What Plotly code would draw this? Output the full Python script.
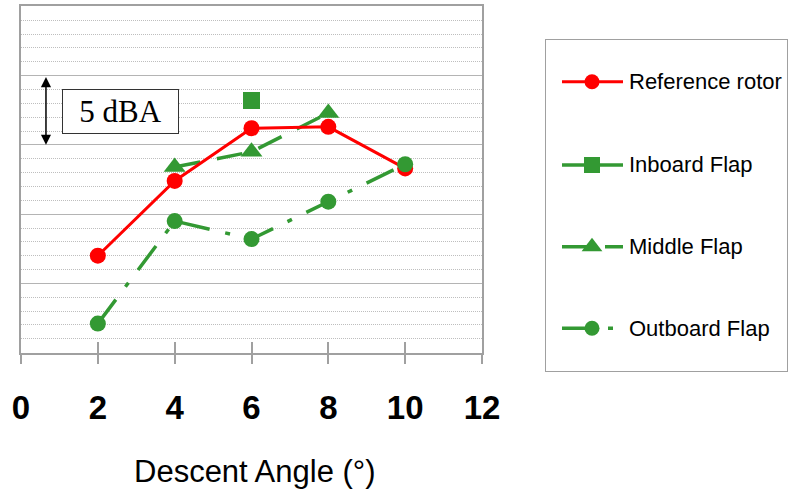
import plotly.graph_objects as go

# Descent angle (deg) and relative noise level (dBA, scale bar = 5 dBA)
angles = [2, 4, 6, 8, 10]
reference_rotor = [7.0, 12.4, 16.2, 16.3, 13.3]
inboard_angles = [6]
inboard_flap = [18.2]
middle_angles = [4, 6, 8]
middle_flap = [13.4, 14.5, 17.3]
outboard_angles = [2, 4, 6, 8, 10]
outboard_flap = [2.1, 9.5, 8.2, 10.9, 13.6]
x_ticks = [0, 2, 4, 6, 8, 10, 12]
series_names = ["Reference rotor", "Inboard Flap", "Middle Flap", "Outboard Flap"]

W, H = 790, 491
RED = "#FF0000"
GREEN = "#339933"
GRID = "#B4B4B4"
MINOR = "#BEBEBE"
AXIS = "#A0A0A0"

styles = {
    "Reference rotor": dict(color=RED, width=3, dash="solid", symbol="circle", size=16),
    "Inboard Flap": dict(color=GREEN, width=3.5, dash="solid", symbol="square", size=17),
    "Middle Flap": dict(color=GREEN, width=3.5, dash="26px,17px", symbol="triangle-up", size=19),
    "Outboard Flap": dict(color=GREEN, width=3.5, dash="30px,16px,5px,16px", symbol="circle", size=16),
}


def series(name, x, y, **kw):
    s = styles[name]
    return go.Scatter(
        x=x, y=y, name=name, mode="lines+markers",
        line=dict(color=s["color"], width=s["width"], dash=s["dash"]),
        marker=dict(color=s["color"], symbol=s["symbol"], size=s["size"], line=dict(width=0)),
        showlegend=False, hoverinfo="x+y+name", **kw,
    )


fig = go.Figure()
fig.add_trace(series("Middle Flap", middle_angles, middle_flap))
fig.add_trace(series("Reference rotor", angles, reference_rotor))
fig.add_trace(series("Inboard Flap", inboard_angles, inboard_flap))
fig.add_trace(series("Outboard Flap", outboard_angles, outboard_flap))
# carrier trace for the inward half of the crossing x ticks
fig.add_trace(go.Scatter(x=x_ticks, y=[None] * len(x_ticks), xaxis="x3", yaxis="y",
                         mode="markers", showlegend=False, hoverinfo="skip"))

# key panel drawn on its own pixel-scaled axes
KEY_X0, KEY_X1, KEY_Y0, KEY_Y1 = 546, 787, 40, 371
key_rows = [81.7, 165, 246.7, 328.3]
key_line = (562, 623)
key_marker_x = 592
key_text_x = 627
for name, ry in zip(series_names, key_rows):
    s = styles[name]
    fig.add_trace(go.Scatter(
        x=list(key_line), y=[ry, ry], mode="lines", xaxis="x2", yaxis="y2",
        line=dict(color=s["color"], width=s["width"], dash=s["dash"]),
        showlegend=False, hoverinfo="skip"))
    fig.add_trace(go.Scatter(
        x=[key_marker_x], y=[ry], mode="markers", xaxis="x2", yaxis="y2",
        marker=dict(color=s["color"], symbol=s["symbol"], size=s["size"] - 1, line=dict(width=0)),
        showlegend=False, hoverinfo="skip"))
    fig.add_annotation(
        x=key_text_x, y=ry, xref="x2", yref="y2", text=name, showarrow=False,
        xanchor="left", yanchor="middle",
        font=dict(family="Liberation Sans, Arial, sans-serif", size=22, color="#000000"))

# 5 dBA scale bar
fig.add_annotation(
    x=0.65, y=15, ax=0.65, ay=20, xref="x", yref="y", axref="x", ayref="y",
    text="", showarrow=True, arrowside="end+start", arrowhead=2, startarrowhead=2,
    arrowsize=1.35, startarrowsize=1.35, arrowwidth=1.5, arrowcolor="#000000")
fig.add_annotation(
    x=2.6, y=17.4, xref="x", yref="y", text="5 dBA", showarrow=False,
    width=115, height=43, borderpad=0, borderwidth=1, bordercolor="#333333",
    bgcolor="#FFFFFF", xanchor="center", yanchor="middle",
    font=dict(family="Liberation Serif, Times New Roman, serif", size=31, color="#000000"))

# axis title
fig.add_annotation(
    x=255 / W, y=1 - 471 / H, xref="paper", yref="paper", text="Descent Angle (°)",
    showarrow=False, xanchor="center", yanchor="middle",
    font=dict(family="Liberation Sans, Arial, sans-serif", size=31, color="#000000"))

PX0, PX1, PY0, PY1 = 21, 482, 6.3, 352.7
x_dom = [PX0 / W, PX1 / W]
y_dom = [1 - PY1 / H, 1 - PY0 / H]

fig.update_layout(
    width=W, height=H, margin=dict(l=0, r=0, t=0, b=0, autoexpand=False),
    paper_bgcolor="#FFFFFF", plot_bgcolor="#FFFFFF", showlegend=False,
    xaxis=dict(
        domain=x_dom, range=[0, 12], tickvals=x_ticks, ticktext=[str(t) for t in x_ticks],
        showgrid=False, zeroline=False, showline=True, linecolor=AXIS, linewidth=1.5,
        mirror=True, ticks="outside", ticklen=10, tickwidth=1.5, tickcolor=AXIS,
        ticklabelstandoff=15,
        tickfont=dict(family="Liberation Sans, Arial, sans-serif", size=33, color="#000000",
                      weight="bold"),
        fixedrange=True, automargin=False,
    ),
    xaxis3=dict(
        overlaying="x", anchor="y", side="bottom", range=[0, 12], tickvals=x_ticks,
        showticklabels=False, showgrid=False, zeroline=False, showline=False,
        ticks="inside", ticklen=11, tickwidth=1.5, tickcolor=AXIS, fixedrange=True,
    ),
    yaxis=dict(
        domain=y_dom, range=[0, 25], dtick=5, tick0=0, showticklabels=False,
        showgrid=True, gridcolor=GRID, gridwidth=1.2, zeroline=False,
        showline=True, linecolor=AXIS, linewidth=1.5, mirror=True, ticks="",
        minor=dict(dtick=1, tick0=0, showgrid=True, gridcolor=MINOR, griddash="1px,1px",
                   gridwidth=1, ticks=""),
        fixedrange=True, automargin=False,
    ),
    xaxis2=dict(
        domain=[KEY_X0 / W, KEY_X1 / W], range=[KEY_X0, KEY_X1], anchor="y2",
        visible=True, showticklabels=False, showgrid=False, zeroline=False, ticks="",
        showline=True, mirror=True, linecolor=AXIS, linewidth=1, fixedrange=True,
    ),
    yaxis2=dict(
        domain=[1 - KEY_Y1 / H, 1 - KEY_Y0 / H], range=[KEY_Y1, KEY_Y0], anchor="x2",
        showticklabels=False, showgrid=False, zeroline=False, ticks="",
        showline=True, mirror=True, linecolor=AXIS, linewidth=1, fixedrange=True,
    ),
)

fig.write_html("out.html")
